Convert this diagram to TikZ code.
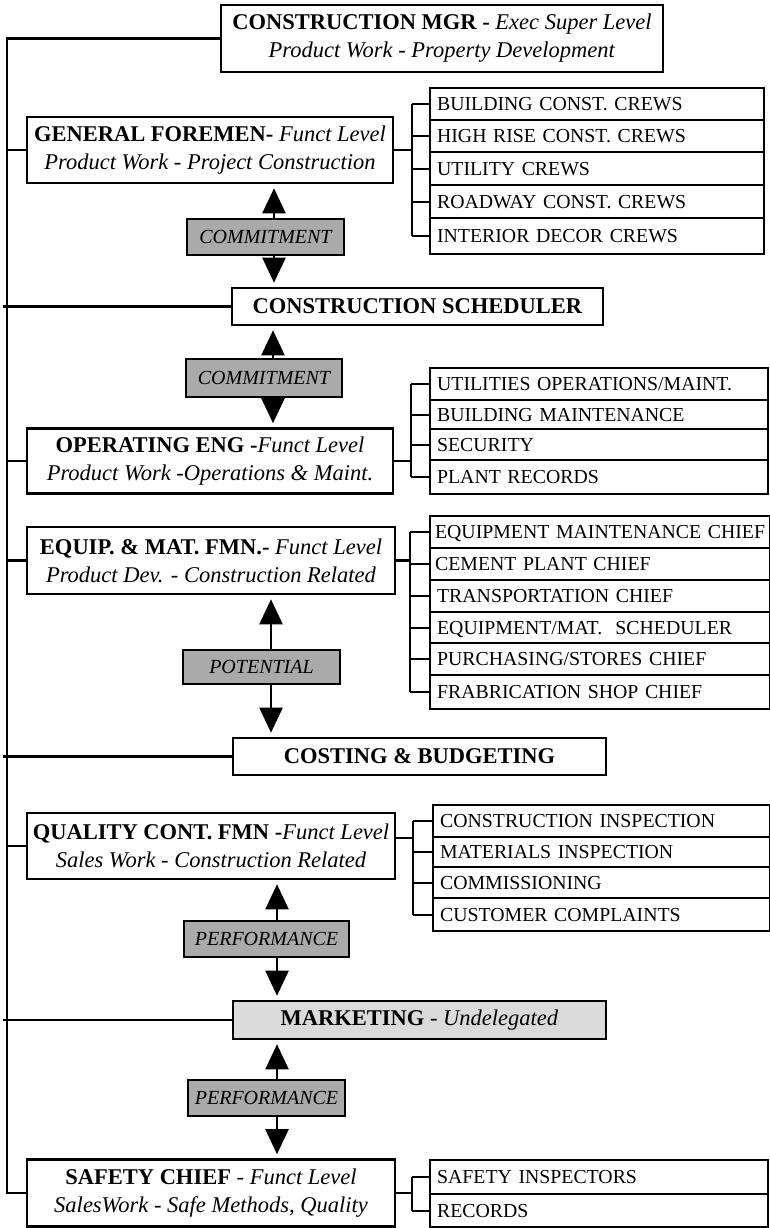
\documentclass[tikz,border=0pt]{standalone}
\usepackage{fontspec}
\setmainfont{Liberation Serif}
\usetikzlibrary{arrows.meta}
\definecolor{tagfill}{RGB}{170,170,170}
\definecolor{mktfill}{RGB}{218,218,218}
\begin{document}
\begin{tikzpicture}[x=1pt,y=-1pt,
  mainbox/.style={draw, line width=2.6pt, fill=white, align=center, inner sep=0pt,
    font=\fontsize{22.5}{28}\selectfont},
  tagbox/.style={draw, line width=1.5pt, fill=tagfill, inner sep=0pt,
    font=\fontsize{20}{24}\selectfont\itshape},
  rowbox/.style={draw, line width=2.2pt, anchor=north west, inner xsep=7pt, inner ysep=0pt,
    align=left, text height=13.5pt, text depth=0pt, font=\fontsize{19.8}{24}\selectfont},
  link/.style={line width=2.2pt},
  arr/.style={line width=2.4pt, -{Triangle[length=25pt,width=23pt]}, shorten >=4pt},
]
\useasboundingbox (0,0) rectangle (770,1228);

% ---- main chain of positions ----
\node[mainbox, minimum width=442pt, minimum height=67pt] (mgr) at (442,38.5)
  {\textbf{CONSTRUCTION MGR -} \textit{Exec Super Level}\\ \textit{Product Work - Property Development}};
\node[mainbox, minimum width=366pt, minimum height=66pt] (gf) at (210,150)
  {\textbf{GENERAL FOREMEN-} \textit{Funct Level}\\ \textit{Product Work - Project Construction}};
\node[mainbox, minimum width=371pt, minimum height=37pt] (sched) at (417.5,306.5)
  {\textbf{CONSTRUCTION SCHEDULER}};
\node[mainbox, minimum width=366pt, minimum height=65pt] (oe) at (210,461)
  {\textbf{OPERATING ENG -}\textit{Funct Level}\\ \textit{Product Work -Operations \& Maint.}};
\node[mainbox, minimum width=368pt, minimum height=67pt] (eq) at (211,560.5)
  {\textbf{EQUIP. \& MAT. FMN.-} \textit{Funct Level}\\ \textit{Product Dev. - Construction Related}};
\node[mainbox, minimum width=373pt, minimum height=37pt] (cost) at (419.5,756.5)
  {\textbf{COSTING \& BUDGETING}};
\node[mainbox, minimum width=368pt, minimum height=66pt] (qc) at (211,846)
  {\textbf{QUALITY CONT. FMN -}\textit{Funct Level}\\ \textit{Sales Work - Construction Related}};
\node[mainbox, fill=mktfill, minimum width=373pt, minimum height=38pt] (mkt) at (419.5,1020)
  {\textbf{MARKETING} - \textit{Undelegated}};
\node[mainbox, minimum width=368pt, minimum height=67pt] (safe) at (211,1193)
  {\textbf{SAFETY CHIEF} - \textit{Funct Level}\\ \textit{SalesWork - Safe Methods, Quality}};

% ---- relationship tags ----
\node[tagbox, minimum width=157pt, minimum height=36pt] (c1) at (265.5,237) {COMMITMENT};
\node[tagbox, minimum width=156pt, minimum height=38pt] (c2) at (264,378) {COMMITMENT};
\node[tagbox, minimum width=157pt, minimum height=34pt] (pot) at (261.5,667) {POTENTIAL};
\node[tagbox, minimum width=165pt, minimum height=36pt] (p1) at (266.5,939) {PERFORMANCE};
\node[tagbox, minimum width=157pt, minimum height=36pt] (p2) at (266.5,1098) {PERFORMANCE};

% ---- arrows between positions ----
\coordinate (ax1) at (274,0);
\coordinate (ax2) at (273,0);
\coordinate (ax3) at (271,0);
\coordinate (ax4) at (277,0);
\draw[arr] (c1.north -| ax1) -- (gf.south -| ax1);
\draw[arr] (c1.south -| ax1) -- (sched.north -| ax1);
\draw[arr] (c2.north -| ax2) -- (sched.south -| ax2);
\draw[arr] (c2.south -| ax2) -- (oe.north -| ax2);
\draw[arr] (pot.north -| ax3) -- (eq.south -| ax3);
\draw[arr] (pot.south -| ax3) -- (cost.north -| ax3);
\draw[arr] (p1.north -| ax4) -- (qc.south -| ax4);
\draw[arr] (p1.south -| ax4) -- (mkt.north -| ax4);
\draw[arr] (p2.north -| ax4) -- (mkt.south -| ax4);
\draw[arr] (p2.south -| ax4) -- (safe.north -| ax4);

% ---- left spine ----
\coordinate (sp) at (7,0);
\draw[link] (mgr.west) -| (sp |- safe.west) -- (safe.west);
\foreach \n in {gf,oe,eq,qc} \draw[link] (sp |- \n.west) -- (\n.west);
\foreach \n in {sched,cost,mkt} \draw[link] ([xshift=-4pt]sp |- \n.west) -- (\n.west);

% ---- crews under the general foremen ----
\node[rowbox, minimum width=334pt, minimum height=32pt, text width=320pt] (r11) at (429,87) {BUILDING CONST. CREWS};
\node[rowbox, minimum width=334pt, minimum height=32pt, text width=320pt] (r12) at (429,119) {HIGH RISE CONST. CREWS};
\node[rowbox, minimum width=334pt, minimum height=33pt, text width=320pt] (r13) at (429,151) {UTILITY CREWS};
\node[rowbox, minimum width=334pt, minimum height=33pt, text width=320pt] (r14) at (429,184) {ROADWAY CONST. CREWS};
\node[rowbox, minimum width=334pt, minimum height=36pt, text width=320pt] (r15) at (429,217) {INTERIOR DECOR CREWS};

% ---- operating engineering units ----
\node[rowbox, minimum width=338pt, minimum height=32pt, text width=324pt] (r21) at (429,367) {UTILITIES OPERATIONS/MAINT.};
\node[rowbox, minimum width=338pt, minimum height=29pt, text width=324pt] (r22) at (429,399) {BUILDING MAINTENANCE};
\node[rowbox, minimum width=338pt, minimum height=31pt, text width=324pt] (r23) at (429,428) {SECURITY};
\node[rowbox, minimum width=338pt, minimum height=34pt, text width=324pt] (r24) at (429,459) {PLANT RECORDS};

% ---- equipment and material chiefs ----
\node[rowbox, inner xsep=5pt, minimum width=340pt, minimum height=32pt, text width=330pt] (r31) at (429,515) {EQUIPMENT MAINTENANCE CHIEF};
\node[rowbox, inner xsep=5pt, minimum width=340pt, minimum height=32pt, text width=330pt] (r32) at (429,547) {CEMENT PLANT CHIEF};
\node[rowbox, minimum width=340pt, minimum height=32pt, text width=326pt] (r33) at (429,579) {TRANSPORTATION CHIEF};
\node[rowbox, minimum width=340pt, minimum height=31pt, text width=326pt] (r34) at (429,611) {EQUIPMENT/MAT.\ \ SCHEDULER};
\node[rowbox, minimum width=340pt, minimum height=32pt, text width=326pt] (r35) at (429,642) {PURCHASING/STORES CHIEF};
\node[rowbox, minimum width=340pt, minimum height=34pt, text width=326pt] (r36) at (429,674) {FRABRICATION SHOP CHIEF};

% ---- quality control units ----
\node[rowbox, minimum width=337pt, minimum height=32pt, text width=323pt] (r41) at (432,804) {CONSTRUCTION INSPECTION};
\node[rowbox, minimum width=337pt, minimum height=30pt, text width=323pt] (r42) at (432,836) {MATERIALS INSPECTION};
\node[rowbox, minimum width=337pt, minimum height=31pt, text width=323pt] (r43) at (432,866) {COMMISSIONING};
\node[rowbox, minimum width=337pt, minimum height=33pt, text width=323pt] (r44) at (432,897) {CUSTOMER COMPLAINTS};

% ---- safety units ----
\node[rowbox, minimum width=338pt, minimum height=34pt, text width=324pt] (r51) at (429,1159) {SAFETY INSPECTORS};
\node[rowbox, minimum width=338pt, minimum height=33pt, text width=324pt] (r52) at (429,1193) {RECORDS};

% ---- brackets from each position to its units ----
\coordinate (b1) at (412,0);
\draw[link] (gf.east) -- (gf.east -| b1);
\draw[link] (b1 |- r11.west) -- (b1 |- r15.west);
\foreach \r in {r11,r12,r13,r14,r15} \draw[link] (b1 |- \r.west) -- (\r.west);

\coordinate (b2) at (411,0);
\draw[link] (oe.east) -- (oe.east -| b2);
\draw[link] (b2 |- r21.west) -- (b2 |- r24.west);
\foreach \r in {r21,r22,r23,r24} \draw[link] (b2 |- \r.west) -- (\r.west);

\coordinate (b3) at (410,0);
\draw[link] (eq.east) -- (eq.east -| b3);
\draw[link] (b3 |- r31.west) -- (b3 |- r36.west);
\foreach \r in {r31,r32,r33,r34,r35,r36} \draw[link] (b3 |- \r.west) -- (\r.west);

\coordinate (b4) at (413,0);
\draw[link] ([yshift=8pt]qc.east) -- ([yshift=8pt]qc.east -| b4);
\draw[link] (b4 |- r41.west) -- (b4 |- r44.west);
\foreach \r in {r41,r42,r43,r44} \draw[link] (b4 |- \r.west) -- (\r.west);

\coordinate (b5) at (412,0);
\draw[link] (safe.east) -- (safe.east -| b5);
\draw[link] (b5 |- r51.west) -- (b5 |- r52.west);
\foreach \r in {r51,r52} \draw[link] (b5 |- \r.west) -- (\r.west);
\end{tikzpicture}
\end{document}
